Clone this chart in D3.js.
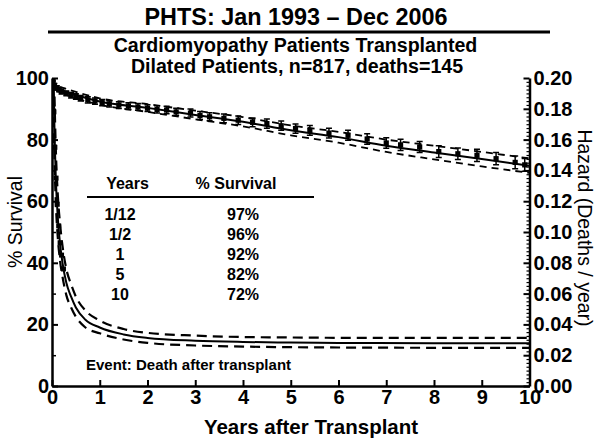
<!DOCTYPE html>
<html><head><meta charset="utf-8">
<script src="https://cdn.jsdelivr.net/npm/d3@7"></script>
<style>
body{margin:0;background:#fff;}
svg{display:block;font-family:"Liberation Sans",Arial,sans-serif;}
</style></head><body>
<svg id="chart" width="600" height="447"></svg>
<script>
// ---- data ----
const survT  = [0, 0.04, 0.083, 0.25, 0.5, 1, 2, 3, 4, 5, 6, 7, 8, 9, 10];
const survV  = [100, 98, 97, 95.8, 94.5, 92.4, 90.3, 88, 85.8, 83, 80.8, 78, 75.8, 73.7, 71.5];
const survLo = [100, 97.3, 96.2, 94.8, 93.4, 91.3, 89, 86.6, 84.3, 81.4, 79, 76, 73.6, 71.3, 69.2];
const survHi = [100, 98.6, 97.7, 96.7, 95.5, 93.4, 91.5, 89.4, 87.3, 84.6, 82.5, 80, 78, 76, 73.9];

const kmT  = [0.02,0.05,0.1,0.15,0.2,0.3,0.4,0.5,0.6,0.75,0.9,1.05,1.2,1.4,1.6,1.8,2.0,2.2,2.4,2.6,2.9,3.1,3.3,3.6,3.9,4.2,4.5,4.8,5.1,5.4,5.8,6.2,6.6,7.0,7.3,7.7,8.1,8.5,8.9,9.3,9.7,9.9];
const kmS  = [98.5,97.6,96.8,96.2,95.6,95.0,94.4,94.0,93.4,92.9,92.5,92.0,91.6,91.2,90.9,90.6,90.2,89.8,89.6,89.0,88.6,87.8,87.4,86.9,86.3,85.6,85.2,84.5,83.6,83.0,82.1,81.4,80.2,78.9,78.3,77.6,76.1,75.4,74.9,73.8,72.6,71.8];
const kmErr = [0.5,0.6,0.7,0.7,0.8,0.8,0.9,0.9,0.9,1.0,1.0,1.0,1.0,1.1,1.1,1.1,1.1,1.2,1.2,1.2,1.3,1.3,1.3,1.4,1.4,1.4,1.5,1.5,1.5,1.6,1.6,1.6,1.7,1.7,1.8,1.8,1.9,1.9,2.0,2.0,2.1,2.1];

const hazT  = [0.03, 0.05, 0.08, 0.12, 0.17, 0.22, 0.3, 0.4, 0.5, 0.7, 1, 1.5, 2, 3, 4, 5, 6, 8, 10];
const hazV  = [0.21, 0.17, 0.135, 0.11, 0.092, 0.08, 0.067, 0.058, 0.051, 0.043, 0.038, 0.0335, 0.0312, 0.0294, 0.0286, 0.0282, 0.028, 0.0278, 0.0277];
const hazLo = [0.185, 0.15, 0.119, 0.097, 0.081, 0.071, 0.059, 0.051, 0.045, 0.038, 0.0342, 0.0302, 0.028, 0.0263, 0.0256, 0.0252, 0.025, 0.0248, 0.0247];
const hazHi = [0.24, 0.194, 0.154, 0.125, 0.105, 0.091, 0.076, 0.066, 0.058, 0.049, 0.0425, 0.037, 0.0345, 0.0327, 0.0318, 0.0315, 0.0313, 0.0312, 0.0312];

const hazPtT = [0.025, 0.04, 0.06, 0.085, 0.11, 0.14, 0.17, 0.2, 0.24];
const hazPtV = [0.2, 0.178, 0.155, 0.135, 0.118, 0.104, 0.093, 0.085, 0.076];

const tableYears = ["1/12", "1/2", "1", "5", "10"];
const tableSurv  = ["97%", "96%", "92%", "82%", "72%"];

const xTicks = [0,1,2,3,4,5,6,7,8,9,10];
const yTicks = [0,20,40,60,80,100];
const yMinor = [10,30,50,70,90];
const hTicks = [0,0.02,0.04,0.06,0.08,0.10,0.12,0.14,0.16,0.18,0.20];

// ---- layout ----
const L = 52, R = 529.5, T = 78, B = 386;
const svg = d3.select("#chart");
const x = d3.scaleLinear().domain([0,10]).range([L,R]);
const y = d3.scaleLinear().domain([0,100]).range([B,T]);
const yh = d3.scaleLinear().domain([0,0.2]).range([B,T]);

svg.append("defs").append("clipPath").attr("id","clip")
  .append("rect").attr("x",L).attr("y",T).attr("width",R-L).attr("height",B-T);

// titles
svg.append("text").attr("x",296).attr("y",25).attr("text-anchor","middle")
  .attr("font-size",23.4).attr("font-weight","bold").text("PHTS: Jan 1993 \u2013 Dec 2006");
svg.append("line").attr("x1",48).attr("x2",550).attr("y1",32).attr("y2",32)
  .attr("stroke","#000").attr("stroke-width",3);
svg.append("text").attr("x",295.5).attr("y",52).attr("text-anchor","middle")
  .attr("font-size",19.6).attr("font-weight","bold").text("Cardiomyopathy Patients Transplanted");
svg.append("text").attr("x",297).attr("y",73).attr("text-anchor","middle")
  .attr("font-size",19.6).attr("font-weight","bold").text("Dilated Patients, n=817, deaths=145");

const g = svg.append("g").attr("clip-path","url(#clip)");

// hazard curves
const hLine = (vals) => d3.line().curve(d3.curveMonotoneX)
  .x((d,i)=>x(hazT[i])).y((d,i)=>yh(vals[i]))(vals);
g.append("path").attr("d",hLine(hazV)).attr("fill","none").attr("stroke","#000").attr("stroke-width",2);
[hazLo,hazHi].forEach(v=>{
  g.append("path").attr("d",hLine(v)).attr("fill","none").attr("stroke","#000")
   .attr("stroke-width",2.2).attr("stroke-dasharray","10,6");
});
g.selectAll("rect.hp").data(hazPtT).enter().append("rect")
  .attr("x",(d)=>x(d)-2.5).attr("y",(d,i)=>yh(hazPtV[i])-2.5).attr("width",5).attr("height",5).attr("fill","#000");

// survival curves
const sLine = (vals) => d3.line().curve(d3.curveMonotoneX)
  .x((d,i)=>x(survT[i])).y((d,i)=>y(vals[i]))(vals);
g.append("path").attr("d",sLine(survV)).attr("fill","none").attr("stroke","#000").attr("stroke-width",2);
[survLo,survHi].forEach(v=>{
  g.append("path").attr("d",sLine(v)).attr("fill","none").attr("stroke","#000")
   .attr("stroke-width",1.8).attr("stroke-dasharray","7,5");
});
// KM points with error bars
const km = g.append("g");
kmT.forEach((t,i)=>{
  const cx = x(t), cy = y(kmS[i]), lo = y(kmS[i]-kmErr[i]), hi = y(kmS[i]+kmErr[i]);
  km.append("line").attr("x1",cx).attr("x2",cx).attr("y1",lo).attr("y2",hi).attr("stroke","#000").attr("stroke-width",1.5);
  km.append("line").attr("x1",cx-3).attr("x2",cx+3).attr("y1",lo).attr("y2",lo).attr("stroke","#000").attr("stroke-width",1.5);
  km.append("line").attr("x1",cx-3).attr("x2",cx+3).attr("y1",hi).attr("y2",hi).attr("stroke","#000").attr("stroke-width",1.5);
  km.append("rect").attr("x",cx-2.6).attr("y",cy-2.6).attr("width",5.2).attr("height",5.2).attr("fill","#000");
});

// axes
const styleAxis = (sel) => {
  sel.select(".domain").attr("stroke-width",2.5);
  sel.selectAll(".tick line").attr("stroke-width",2);
  sel.selectAll("text").attr("font-size",20).attr("font-weight","bold").attr("font-family","'Liberation Sans',Arial,sans-serif").attr("fill","#000");
};
const xa = svg.append("g").attr("transform",`translate(0,${B})`)
  .call(d3.axisBottom(x).tickValues(xTicks).tickSizeInner(-6).tickSizeOuter(0).tickPadding(4).tickFormat(d3.format("d")));
styleAxis(xa);
const ya = svg.append("g").attr("transform",`translate(${L},0)`)
  .call(d3.axisLeft(y).tickValues(yTicks).tickSizeInner(-6).tickSizeOuter(0).tickPadding(3));
styleAxis(ya);
const yam = svg.append("g").attr("transform",`translate(${L},0)`)
  .call(d3.axisLeft(y).tickValues(yMinor).tickSizeInner(-4).tickSizeOuter(0).tickFormat(""));
yam.select(".domain").remove(); yam.selectAll(".tick line").attr("stroke-width",1.5);

const ha = svg.append("g").attr("transform",`translate(${R},0)`)
  .call(d3.axisRight(yh).tickValues(hTicks).tickSizeInner(-6).tickSizeOuter(0).tickPadding(4).tickFormat(d3.format(".2f")));
styleAxis(ha);
const hMinor = d3.range(0, 81).map(i=>i*0.0025).filter(v=>Math.round(v*10000)%200!==0);
const ham = svg.append("g").attr("transform",`translate(${R},0)`)
  .call(d3.axisRight(yh).tickValues(hMinor).tickSizeInner(-3).tickSizeOuter(0).tickFormat(""));
ham.select(".domain").remove(); ham.selectAll(".tick line").attr("stroke-width",1.2);

// axis titles
svg.append("text").attr("transform","translate(22,222) rotate(-90)").attr("text-anchor","middle")
  .attr("font-size",19.5).text("% Survival");
svg.append("text").attr("transform","translate(578,228) rotate(90)").attr("text-anchor","middle")
  .attr("font-size",19.5).text("Hazard (Deaths / year)");
svg.append("text").attr("x",311).attr("y",434).attr("text-anchor","middle")
  .attr("font-size",20.5).attr("font-weight","bold").text("Years after Transplant");

// table
svg.append("text").attr("x",127.5).attr("y",189).attr("text-anchor","middle").attr("font-size",16).attr("font-weight","bold").text("Years");
svg.append("text").attr("x",236).attr("y",189).attr("text-anchor","middle").attr("font-size",16).attr("font-weight","bold").text("% Survival");
svg.append("line").attr("x1",87).attr("x2",314).attr("y1",197).attr("y2",197).attr("stroke","#000").attr("stroke-width",2);
tableYears.forEach((yr,i)=>{
  const yy = 220 + i*20;
  svg.append("text").attr("x",120).attr("y",yy).attr("text-anchor","middle").attr("font-size",16).attr("font-weight","bold").text(yr);
  svg.append("text").attr("x",243).attr("y",yy).attr("text-anchor","middle").attr("font-size",16).attr("font-weight","bold").text(tableSurv[i]);
});
svg.append("text").attr("x",86).attr("y",370).attr("font-size",15).attr("font-weight","bold").text("Event: Death after transplant");
</script>
</body></html>
